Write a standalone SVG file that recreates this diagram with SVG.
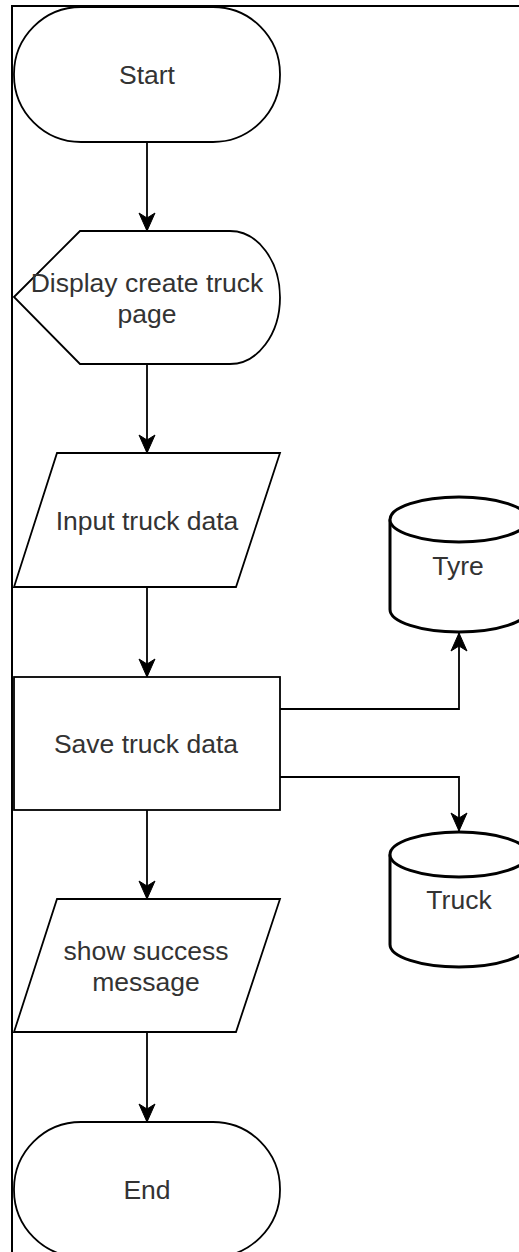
<svg xmlns="http://www.w3.org/2000/svg" width="519" height="1252" viewBox="0 0 519 1252">
  <style>
    .shape { fill: #ffffff; stroke: #000000; stroke-width: 1.8; }
    .db { fill: #ffffff; stroke: #000000; stroke-width: 3; }
    .frame { fill: none; stroke: #000000; stroke-width: 2; }
    .edge { fill: none; stroke: #000000; stroke-width: 1.8; marker-end: url(#arrow); }
    .label { font-family: "Liberation Sans", Arial, sans-serif; font-size: 26.5px; fill: #333333; text-anchor: middle; }
  </style>
  <defs>
    <marker id="arrow" viewBox="-20 -10 20 20" refX="0" refY="0" markerWidth="20" markerHeight="20" markerUnits="userSpaceOnUse" orient="auto">
      <path d="M0,0 L-18,-8 L-13,0 L-18,8 Z" fill="#000000" stroke="#000000" stroke-width="1"/>
    </marker>
  </defs>
  <rect width="519" height="1252" fill="#ffffff"/>

  <!-- outer frame -->
  <path class="frame" d="M12,1252 L12,6 L519,6"/>

  <!-- connectors -->
  <g id="connectors">
    <path class="edge" d="M147,142 L147,231"/>
    <path class="edge" d="M147,364 L147,453"/>
    <path class="edge" d="M147,587 L147,677"/>
    <path class="edge" d="M147,810 L147,899"/>
    <path class="edge" d="M147,1032 L147,1122"/>
    <path class="edge" d="M280,709 L459,709 L459,633"/>
    <path class="edge" d="M280,777 L459,777 L459,831"/>
  </g>

  <g id="start">
    <rect class="shape" x="14" y="7" width="266" height="135" rx="67" ry="67"/>
    <text class="label" x="147" y="84">Start</text>
  </g>

  <g id="display-create-truck-page">
    <path class="shape" d="M14,297 L80,231 L230,231 A50,66.5 0 0 1 230,364 L80,364 Z"/>
    <text class="label" x="147" y="292">Display create truck</text>
    <text class="label" x="147" y="323">page</text>
  </g>

  <g id="input-truck-data">
    <path class="shape" d="M57,453 L280,453 L236,587 L14,587 Z"/>
    <text class="label" x="147" y="530">Input truck data</text>
  </g>

  <g id="save-truck-data">
    <rect class="shape" x="14" y="677" width="266" height="133"/>
    <text class="label" x="146" y="753">Save truck data</text>
  </g>

  <g id="tyre">
    <path class="db" d="M390,519.5 L390,609.5 A69,22.5 0 0 0 528,609.5 L528,519.5"/>
    <ellipse class="db" cx="459" cy="519.5" rx="69" ry="22.5"/>
    <text class="label" x="458" y="575">Tyre</text>
  </g>

  <g id="truck">
    <path class="db" d="M390,854.5 L390,944.5 A69,22.5 0 0 0 528,944.5 L528,854.5"/>
    <ellipse class="db" cx="459" cy="854.5" rx="69" ry="22.5"/>
    <text class="label" x="459" y="909">Truck</text>
  </g>

  <g id="show-success-message">
    <path class="shape" d="M57,899 L280,899 L236,1032 L14,1032 Z"/>
    <text class="label" x="146" y="960">show success</text>
    <text class="label" x="146" y="991">message</text>
  </g>

  <g id="end">
    <rect class="shape" x="14" y="1122" width="266" height="135" rx="67" ry="67"/>
    <text class="label" x="147" y="1199">End</text>
  </g>
</svg>
